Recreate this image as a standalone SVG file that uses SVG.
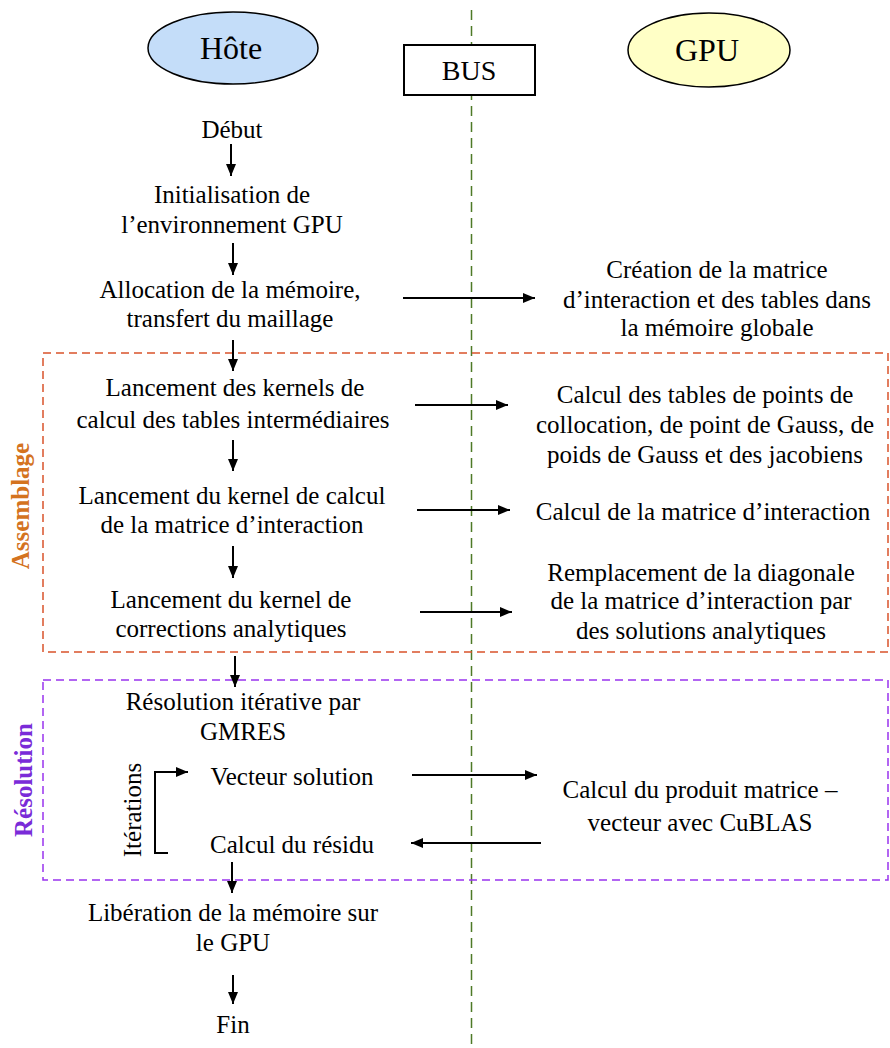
<svg xmlns="http://www.w3.org/2000/svg" width="890" height="1048" viewBox="0 0 890 1048" font-family="'Liberation Serif', 'Times New Roman', serif">
<style>
text{font-family:'Liberation Serif','Times New Roman',serif;fill:#000;text-anchor:middle}
.t{font-size:25px}
.big{font-size:32px}
.ln{stroke:#000;stroke-width:2;fill:none}
</style>
<defs>
<marker id="ah" viewBox="0 0 12 12" refX="12" refY="6" markerWidth="12" markerHeight="12" markerUnits="userSpaceOnUse" orient="auto"><path d="M0,1 L12,6 L0,11 Z" fill="#000"/></marker>
</defs>
<rect width="890" height="1048" fill="#fff"/>
<g id="bus-line"><line x1="471.5" y1="10" x2="471.5" y2="1048" stroke="#4E7A27" stroke-width="1.5" stroke-dasharray="10,6"/></g>
<g id="assemblage">
<rect x="43" y="353" width="845" height="299" fill="none" stroke="#D9532B" stroke-width="1.5" stroke-dasharray="8,5"/>
<text class="t" transform="translate(29,506) rotate(-90)" style="font-weight:bold;fill:#D4731F">Assemblage</text>
</g>
<g id="resolution">
<rect x="43" y="680" width="845" height="200" fill="none" stroke="#9933EE" stroke-width="1.5" stroke-dasharray="8,5"/>
<text class="t" transform="translate(32,780) rotate(-90)" style="font-weight:bold;fill:#7A2BD8">Résolution</text>
</g>
<g id="hote"><ellipse cx="233" cy="48" rx="85" ry="36" fill="#C4DDF9" stroke="#000" stroke-width="1.5"/><text class="big" x="231" y="59">Hôte</text></g>
<g id="gpu"><ellipse cx="709" cy="50" rx="81" ry="37" fill="#FFFFC6" stroke="#000" stroke-width="1.5"/><text class="big" x="707" y="61">GPU</text></g>
<g id="bus"><rect x="404" y="45" width="131" height="50" fill="#fff" stroke="#000" stroke-width="2"/><text x="469" y="80" style="font-size:28px">BUS</text></g>
<g id="debut"><text class="t" x="232" y="138">Début</text></g>
<g id="init"><text class="t" x="232" y="203">Initialisation de</text><text class="t" x="232" y="233">l’environnement GPU</text></g>
<g id="alloc"><text class="t" x="230" y="298">Allocation de la mémoire,</text><text class="t" x="230" y="327">transfert du maillage</text></g>
<g id="creation"><text class="t" x="717" y="278">Création de la matrice</text><text class="t" x="717" y="308">d’interaction et des tables dans</text><text class="t" x="717" y="336">la mémoire globale</text></g>
<g id="lk1"><text class="t" x="235" y="396">Lancement des kernels de</text><text class="t" x="233" y="428">calcul des tables intermédiaires</text></g>
<g id="ct"><text class="t" x="705" y="403">Calcul des tables de points de</text><text class="t" x="705" y="433">collocation, de point de Gauss, de</text><text class="t" x="705" y="463">poids de Gauss et des jacobiens</text></g>
<g id="lk2"><text class="t" x="232" y="504">Lancement du kernel de calcul</text><text class="t" x="232" y="533">de la matrice d’interaction</text></g>
<g id="cm"><text class="t" x="703" y="520">Calcul de la matrice d’interaction</text></g>
<g id="lk3"><text class="t" x="231" y="608">Lancement du kernel de</text><text class="t" x="231" y="637">corrections analytiques</text></g>
<g id="rd"><text class="t" x="701" y="581">Remplacement de la diagonale</text><text class="t" x="701" y="609">de la matrice d’interaction par</text><text class="t" x="701" y="639">des solutions analytiques</text></g>
<g id="gmres"><text class="t" x="243" y="710">Résolution itérative par</text><text class="t" x="243" y="740">GMRES</text></g>
<g id="vs"><text class="t" x="292" y="785">Vecteur solution</text></g>
<g id="cr"><text class="t" x="292" y="853">Calcul du résidu</text></g>
<g id="pmv"><text class="t" x="700" y="798">Calcul du produit matrice –</text><text class="t" x="700" y="831">vecteur avec CuBLAS</text></g>
<g id="iter"><text class="t" transform="translate(141,810) rotate(-90)">Itérations</text></g>
<g id="lib"><text class="t" x="233" y="921">Libération de la mémoire sur</text><text class="t" x="233" y="951">le GPU</text></g>
<g id="fin"><text class="t" x="233" y="1033">Fin</text></g>
<g id="connectors" class="ln">
<line class="ln" x1="231" y1="144" x2="231" y2="176" marker-end="url(#ah)"/>
<line class="ln" x1="233" y1="243" x2="233" y2="275" marker-end="url(#ah)"/>
<line class="ln" x1="403" y1="298" x2="535" y2="298" marker-end="url(#ah)"/>
<line class="ln" x1="233" y1="340" x2="233" y2="371" marker-end="url(#ah)"/>
<line class="ln" x1="415" y1="405" x2="508" y2="405" marker-end="url(#ah)"/>
<line class="ln" x1="233" y1="440" x2="233" y2="471" marker-end="url(#ah)"/>
<line class="ln" x1="417" y1="510" x2="510" y2="510" marker-end="url(#ah)"/>
<line class="ln" x1="233" y1="546" x2="233" y2="578" marker-end="url(#ah)"/>
<line class="ln" x1="420" y1="612" x2="512" y2="612" marker-end="url(#ah)"/>
<line class="ln" x1="235" y1="656" x2="235" y2="687" marker-end="url(#ah)"/>
<line class="ln" x1="412" y1="775" x2="537" y2="775" marker-end="url(#ah)"/>
<line class="ln" x1="541" y1="843" x2="411" y2="843" marker-end="url(#ah)"/>
<path class="ln" d="M168,853 H155 V772 H188" marker-end="url(#ah)"/>
<line class="ln" x1="232" y1="862" x2="232" y2="893" marker-end="url(#ah)"/>
<line class="ln" x1="233" y1="975" x2="233" y2="1004" marker-end="url(#ah)"/>
</g>
</svg>
